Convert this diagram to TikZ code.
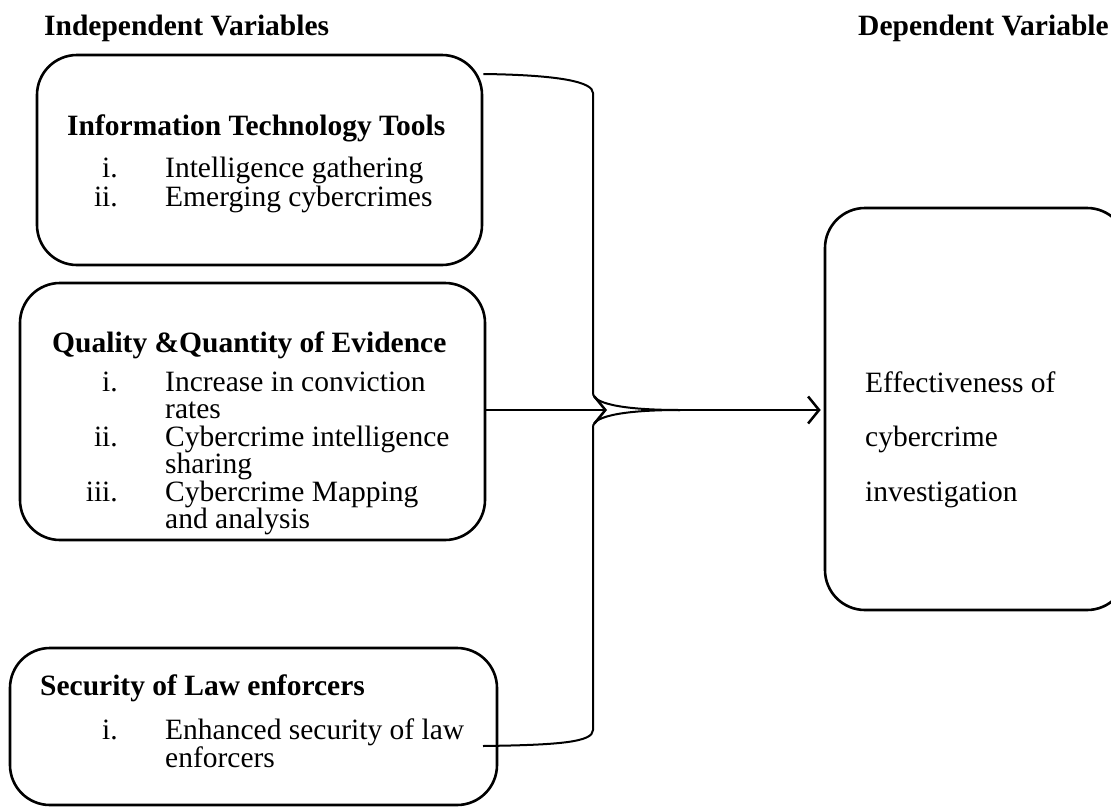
\documentclass[tikz,border=0pt]{standalone}
\usepackage{fontspec}
\setmainfont{Liberation Serif}
\usetikzlibrary{arrows.meta}

\begin{document}
\fontsize{29.5}{35}\selectfont
\begin{tikzpicture}[x=1pt,y=-1pt,
  vbox/.style={draw,line width=2.6pt,rounded corners=40pt,inner sep=0pt},
  hd/.style={anchor=base west,inner sep=0pt,font=\bfseries},
  txt/.style={anchor=base west,inner sep=0pt},
  num/.style={anchor=base east,inner sep=0pt},
  link/.style={line width=2pt},
  arr/.style={link,-{Straight Barb[length=11pt,width=27pt,line width=2.5pt]}}]
\useasboundingbox (0,0) rectangle (1111,806);

% headings
\node[hd] (indep) at (44,35) {Independent Variables};
\node[hd] (dep) at (858,35) {Dependent Variable};

% boxes
\node[vbox,minimum width=445pt,minimum height=210pt] (itt) at (259.5,160) {};
\node[vbox,minimum width=465pt,minimum height=257pt] (qqe) at (252.5,411.5) {};
\node[vbox,minimum width=487pt,minimum height=157pt] (sle) at (253.5,726.5) {};
\node[vbox,minimum width=302pt,minimum height=402pt] (eff) at (976,409) {};

% box titles
\node[hd] (itt-t) at (67,135) {Information Technology Tools};
\node[hd] (qqe-t) at (52,352) {Quality \&Quantity of Evidence};
\node[hd] (sle-t) at (40,695) {Security of Law enforcers};

% lists
\foreach \n/\y [count=\k] in {i./177,ii./206}
   \node[num] (itt-n\k) at (118,\y) {\n};
\foreach \t/\y [count=\k] in {Intelligence gathering/177,Emerging cybercrimes/206}
   \node[txt] (itt-i\k) at (165,\y) {\t};
\foreach \n/\y [count=\k] in {i./391,ii./446,iii./501}
   \node[num] (qqe-n\k) at (118,\y) {\n};
\foreach \t/\y [count=\k] in {Increase in conviction/391,rates/418,
   Cybercrime intelligence/446,sharing/473,Cybercrime Mapping/501,and analysis/528}
   \node[txt] (qqe-i\k) at (165,\y) {\t};
\node[num] (sle-n1) at (118,739) {i.};
\foreach \t/\y [count=\k] in {Enhanced security of law/739,enforcers/767}
   \node[txt] (sle-i\k) at (165,\y) {\t};
\foreach \t/\y [count=\k] in {Effectiveness of/392,cybercrime/446,investigation/501}
   \node[txt] (eff-i\k) at (865,\y) {\t};

% brace and arrows
\coordinate (join) at (680,410);
\coordinate (barin) at (607,410);
\draw[link] (itt.east |- 0,74) .. controls (560,75) and (593,82) .. (593,93)
   -- (593,393) .. controls (593,405) and (630,410) .. (join);
\draw[link] (join) .. controls (630,410) and (593,415) .. (593,427)
   -- (593,730) .. controls (593,742) and (560,745) .. (483,746);
\draw[arr] (qqe.east |- barin) -- (barin);
\draw[arr,shorten >=3pt] (join) -- (eff.west |- join);
\end{tikzpicture}
\end{document}
